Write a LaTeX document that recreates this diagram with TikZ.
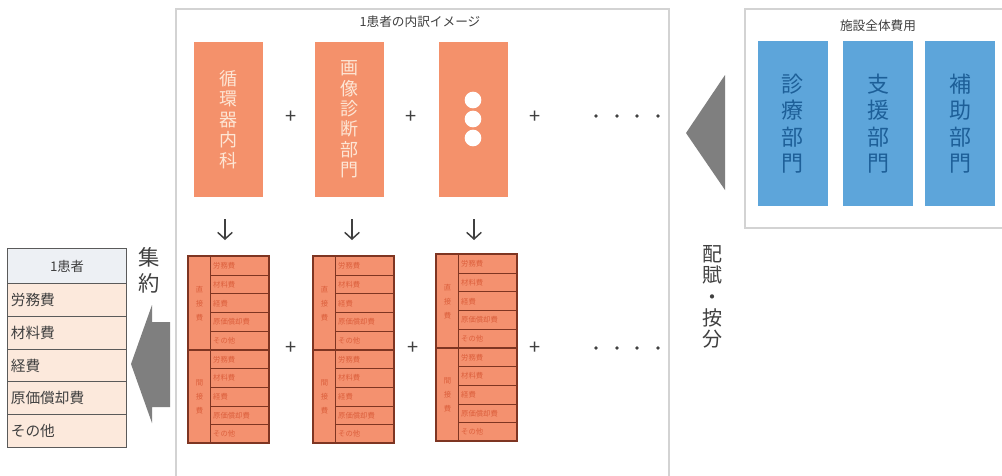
\documentclass[tikz,border=0pt]{standalone}
\usepackage{fontspec}
\setmainfont{Noto Sans CJK JP}
\usetikzlibrary{arrows.meta}
\definecolor{orgfill}{HTML}{F4916B}
\definecolor{orgtext}{HTML}{FDE6D5}
\definecolor{tabfill}{HTML}{F4916F}
\definecolor{tabline}{HTML}{7E3522}
\definecolor{tabtext}{HTML}{DC5F3C}
\definecolor{bluefill}{HTML}{5DA5DA}
\definecolor{bluetext}{HTML}{1D5F98}
\definecolor{framegray}{HTML}{D3D3D3}
\definecolor{arrowgray}{HTML}{7F7F7F}
\definecolor{txtgray}{HTML}{404040}
\definecolor{peach}{HTML}{FCE9DC}
\definecolor{headgray}{HTML}{EDF0F4}
\definecolor{ltline}{HTML}{5A5A5A}
\newcommand\costtable[3]{%
  \node[tleft, anchor=north west] (#1-a) at (#2,#3) {直\\接\\費};
  \node[tleft, anchor=north west] (#1-b) at (#2,#3+93.5) {間\\接\\費};
  \foreach \r/\t [count=\i] in {0/労務費,1/材料費,2/経費,3/原価償却費,4/その他} {
    \node[trow, anchor=north west] (#1-u\i) at (#2+22,#3+\r*18.7) {\t};
    \node[trow, anchor=north west] (#1-l\i) at (#2+22,#3+93.5+\r*18.7) {\t};
  }
  \draw[tabline, line width=1.1pt] (#2,#3) rectangle (#2+81,#3+187);
  \draw[tabline, line width=1.1pt] (#2,#3+93.5) -- (#2+81,#3+93.5);
}
\begin{document}
\begin{tikzpicture}[x=0.75pt,y=-0.75pt,
  obox/.style={fill=orgfill, draw=none, minimum width=51.75pt, minimum height=116.25pt,
    text=orgtext, align=center, inner sep=0pt, font={\fontsize{13.5}{15.3}\selectfont}},
  bbox/.style={fill=bluefill, draw=none, minimum width=52.5pt, minimum height=123.75pt,
    text=bluetext, align=center, inner sep=0pt, font={\fontsize{16.5}{19.8}\selectfont}},
  tleft/.style={fill=tabfill, draw=tabline, line width=0.8pt, minimum width=16.5pt, minimum height=70.125pt,
    inner sep=0pt, align=center, text=tabtext, font={\fontsize{5.5}{10.5}\selectfont}},
  trow/.style={fill=tabfill, draw=tabline, line width=0.8pt, minimum height=14.025pt, text width=40.25pt,
    inner xsep=2pt, inner ysep=0pt, align=left, text=tabtext, font={\fontsize{5.5}{6}\selectfont}},
  lrow/.style={fill=peach, draw=ltline, line width=0.8pt, minimum height=24.6pt, text width=84.25pt,
    inner xsep=2.5pt, inner ysep=0pt, align=left, text=txtgray, font={\fontsize{11}{12}\selectfont}},
  plus/.style={text=txtgray, font={\fontsize{15}{15}\selectfont}, inner sep=0pt},
  dot/.style={circle, fill=txtgray, inner sep=0pt, minimum size=2.8pt},
  wdot/.style={circle, fill=white, inner sep=0pt, minimum size=12.5pt},
  title/.style={text=txtgray, font={\fontsize{9.5}{10}\selectfont}, inner sep=0pt},
  vlabel/.style={text=txtgray, align=center, inner sep=0pt},
  downarrow/.style={draw=txtgray, line width=1.1pt, -{Straight Barb[length=5pt, width=11pt, line width=1.1pt]}},
]
\useasboundingbox (0,0) rectangle (1002,475);
\fill[white] (0,0) rectangle (1002,475);

% frames
\draw[framegray, line width=1pt] (176,480) -- (176,9) -- (669,9) -- (669,480);
\draw[framegray, line width=1pt] (1010,9) -- (745,9) -- (745,228) -- (1010,228);

% titles
\node[title] (t1) at (420,22) {1患者の内訳イメージ};
\node[title] (t2) at (878,26) {施設全体費用};

% orange department boxes
\node[obox] (o1) at (228.5,119.5) {循\\環\\器\\内\\科};
\node[obox] (o2) at (349,119.5) {画\\像\\診\\断\\部\\門};
\node[obox] (o3) at (473,119.5) {};
\node[wdot] (w1) at (473,100) {};
\node[wdot] (w2) at (473,119) {};
\node[wdot] (w3) at (473,138) {};

\node[plus] (p1) at (291,117) {+};
\node[plus] (p2) at (411,117) {+};
\node[plus] (p3) at (535,117) {+};
\foreach \x [count=\k] in {596,617,637,658} {
  \node[dot] (da\k) at (\x,116) {};
  \node[dot] (db\k) at (\x,348) {};
}

% blue boxes
\node[bbox] (b1) at (792.5,123.5) {診\\療\\部\\門};
\node[bbox] (b2) at (878,123.5) {支\\援\\部\\門};
\node[bbox] (b3) at (960,123.5) {補\\助\\部\\門};

% down arrows
\foreach \x [count=\k] in {225,352,474} {
  \coordinate (as\k) at (\x,219);
  \coordinate (ae\k) at (\x,240);
  \draw[downarrow] (as\k) -- (ae\k);
}

% cost tables
\costtable{c1}{188}{256}
\costtable{c2}{313}{256}
\costtable{c3}{436}{254}

\node[plus] (p4) at (291,348) {+};
\node[plus] (p5) at (413,348) {+};
\node[plus] (p6) at (535,348) {+};

% right triangle arrow
\fill[arrowgray] (686,133) -- (725,75) -- (725,190) -- cycle;
\node[vlabel, font={\fontsize{15}{16}\selectfont}] (hai) at (712,297) {配\\賦\\・\\按\\分};

% left big arrow
\fill[arrowgray] (131,364) -- (152,305) -- (152,322) -- (170,322) -- (170,407) -- (152,407) -- (152,423) -- cycle;
\node[vlabel, font={\fontsize{16}{19.5}\selectfont}] (shu) at (149,270) {集\\約};

% left summary table
\node[fill=headgray, draw=ltline, line width=0.8pt, minimum width=89.25pt, minimum height=26.25pt,
  inner sep=0pt, text=txtgray, font={\fontsize{10}{11}\selectfont}, anchor=north west] (h0) at (7,248) {1患者};
\foreach \t [count=\i] in {労務費,材料費,経費,原価償却費,その他} {
  \node[lrow, anchor=north west] (r\i) at (7,283+\i*32.8-32.8) {\t};
}
\end{tikzpicture}
\end{document}
